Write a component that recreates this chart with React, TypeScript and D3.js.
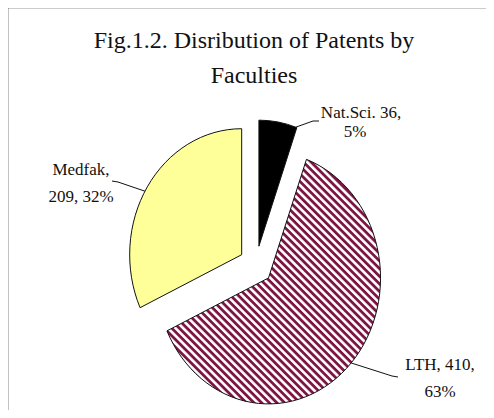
import { useEffect, useRef } from "react"
import * as d3 from "d3"

const categories = ["Nat.Sci.", "LTH", "Medfak"]
const values = [36, 410, 209]
const percents = ["5%", "63%", "32%"]
const titleLines = ["Fig.1.2. Disribution of Patents by", "Faculties"]

export default function App() {
  const svgRef = useRef<SVGSVGElement>(null)

  useEffect(() => {
    if (!svgRef.current) return
    const svg = d3.select(svgRef.current)
    svg.selectAll("*").remove()

    const width = 494
    const height = 418
    const rx = 112
    const ry = 126
    const sy = ry / rx
    const cx = 256
    const cy = 265
    const explode = 17
    const font = "'Liberation Serif', 'DejaVu Serif', serif"

    svg.attr("width", width).attr("height", height)

    // hatch pattern for LTH
    const defs = svg.append("defs")
    const pat = defs
      .append("pattern")
      .attr("id", "hatch")
      .attr("patternUnits", "userSpaceOnUse")
      .attr("width", 5.4)
      .attr("height", 5.4)
      .attr("patternTransform", `scale(1, ${1 / sy}) rotate(45)`)
    pat.append("rect").attr("width", 5.4).attr("height", 5.4).attr("fill", "#ffffff")
    pat.append("rect").attr("width", 5.4).attr("height", 2.8).attr("fill", "#7d1544")

    // frame, only top and left edges are inside the picture
    svg
      .append("path")
      .attr("d", `M7.5,${height} L7.5,7.5 L${width},7.5`)
      .attr("fill", "none")
      .attr("stroke", "#333")
      .attr("stroke-width", 1.6)

    // title
    svg
      .append("g")
      .selectAll("text")
      .data(titleLines)
      .enter()
      .append("text")
      .attr("x", 254)
      .attr("y", (_, i) => 48 + i * 35)
      .attr("text-anchor", "middle")
      .attr("font-family", font)
      .attr("font-size", "24px")
      .attr("fill", "#111")
      .text((d) => d)

    const data = categories.map((c, i) => ({ name: c, value: values[i], pct: percents[i] }))
    const pie = d3
      .pie<{ name: string; value: number; pct: string }>()
      .sort(null)
      .value((d) => d.value)
      .startAngle(0)
      .endAngle(2 * Math.PI)
    const arcs = pie(data)

    const arc = d3.arc<d3.PieArcDatum<any>>().innerRadius(0).outerRadius(rx)
    const fills = ["#000000", "url(#hatch)", "#ffff99"]

    const g = svg.append("g").attr("transform", `translate(${cx},${cy}) scale(1,${sy})`)

    const offset = (a: d3.PieArcDatum<any>) => {
      const mid = (a.startAngle + a.endAngle) / 2
      return [Math.sin(mid) * explode, -Math.cos(mid) * explode]
    }

    g.selectAll("path")
      .data(arcs)
      .enter()
      .append("path")
      .attr("transform", (d) => {
        const [ox, oy] = offset(d)
        return `translate(${ox},${oy})`
      })
      .attr("d", arc)
      .attr("fill", (_, i) => fills[i])
      .attr("stroke", "#111")
      .attr("stroke-width", 1)
      .attr("vector-effect", "non-scaling-stroke")

    // point on a slice's outer arc, in page coords
    const edgePoint = (a: d3.PieArcDatum<any>, ang: number) => {
      const [ox, oy] = offset(a)
      return [cx + ox + Math.sin(ang) * rx, cy + (oy - Math.cos(ang) * rx) * sy]
    }

    // labels
    const labels = [
      {
        lines: [`${categories[0]} ${values[0]},`, percents[0]],
        x: [361, 355],
        y: [118, 137],
        ang: arcs[0].endAngle - 0.01,
        end: [313, 121],
        tail: [319, 121],
      },
      {
        lines: [`${categories[1]}, ${values[1]},`, percents[1]],
        x: [440, 440],
        y: [370, 397],
        ang: (arcs[1].startAngle + arcs[1].endAngle) / 2,
        end: [392, 376],
        tail: [398, 377],
      },
      {
        lines: [`${categories[2]},`, `${values[2]}, ${percents[2]}`],
        x: [81, 81],
        y: [175, 202],
        ang: (arcs[2].startAngle + arcs[2].endAngle) / 2 - 0.04,
        end: [118, 182],
        tail: [112, 181],
      },
    ]

    labels.forEach((l, i) => {
      const p = edgePoint(arcs[i], l.ang)
      svg
        .append("polyline")
        .attr("points", `${p[0]},${p[1]} ${l.end[0]},${l.end[1]} ${l.tail[0]},${l.tail[1]}`)
        .attr("fill", "none")
        .attr("stroke", "#111")
        .attr("stroke-width", 1)
      l.lines.forEach((t, j) => {
        svg
          .append("text")
          .attr("x", l.x[j])
          .attr("y", l.y[j])
          .attr("text-anchor", "middle")
          .attr("font-family", font)
          .attr("font-size", "17px")
          .attr("fill", "#111")
          .text(t)
      })
    })
  }, [])

  return (
    <div style={{ margin: -8 }}>
      <svg ref={svgRef} style={{ display: "block" }} />
    </div>
  )
}
